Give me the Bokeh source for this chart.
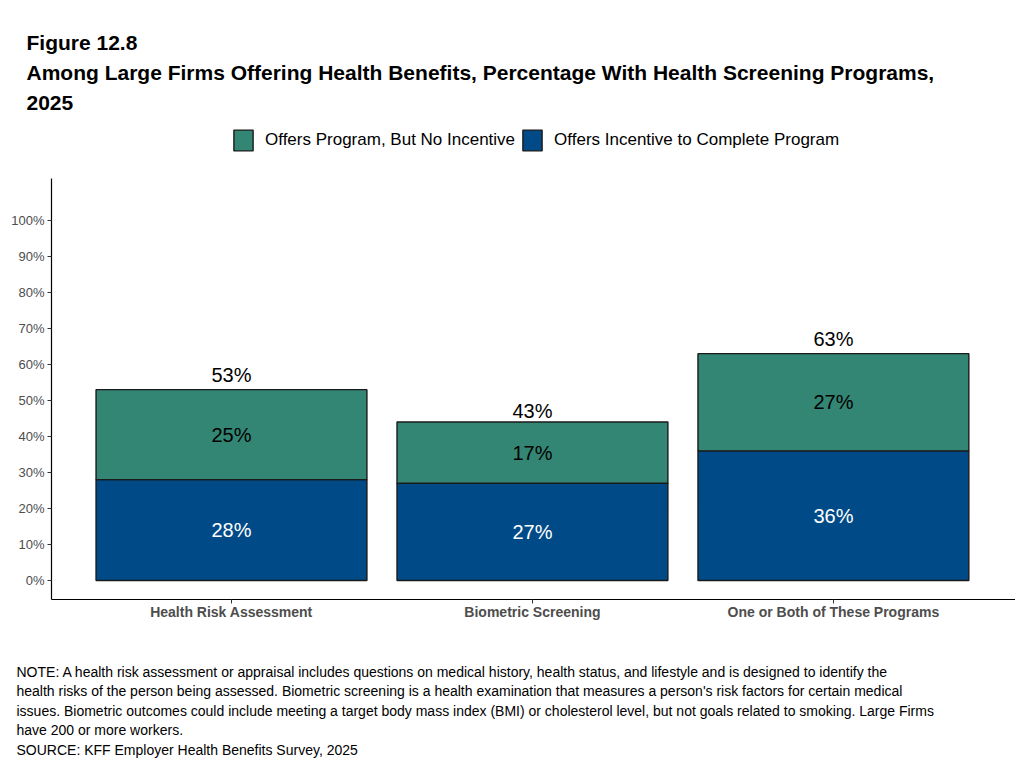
from bokeh.plotting import figure
from bokeh.models import (Range1d, FixedTicker, Legend, LegendItem, Title,
                          ColumnDataSource, LabelSet)
from bokeh.core.properties import value
from bokeh.embed import file_html
from bokeh.resources import INLINE

# ---- data ----
categories = ["Health Risk Assessment", "Biometric Screening", "One or Both of These Programs"]
incentive = [28, 27, 36]          # Offers Incentive to Complete Program
no_incentive = [25, 17, 27]       # Offers Program, But No Incentive
totals = [53, 43, 63]
series_names = ["Offers Program, But No Incentive", "Offers Incentive to Complete Program"]
colors = ["#348674", "#004B87"]
y_ticks = [0, 10, 20, 30, 40, 50, 60, 70, 80, 90, 100]
y_tick_labels = [f"{t}%" for t in y_ticks]

title_lines = ["Figure 12.8",
               "Among Large Firms Offering Health Benefits, Percentage With Health Screening Programs,",
               "2025"]
note_lines = [
    "NOTE: A health risk assessment or appraisal includes questions on medical history, health status, and lifestyle and is designed to identify the",
    "health risks of the person being assessed.  Biometric screening is a health examination that measures a person's risk factors for certain medical",
    "issues. Biometric outcomes could include meeting a target body mass index (BMI) or cholesterol level, but not goals related to smoking.  Large Firms",
    "have 200 or more workers.",
    "SOURCE: KFF Employer Health Benefits Survey, 2025",
]

FONT = "Liberation Sans"

# axis extent (ggplot-style expansion) and the extra room above it for the legend
Y_AXIS_LO, Y_AXIS_HI, Y_VIEW_HI = -5.28, 111.67, 128.3

xs = list(range(1, len(categories) + 1))
src = ColumnDataSource(dict(
    x=xs,
    incentive=incentive,
    no_incentive=no_incentive,
    inc_mid=[a / 2 for a in incentive],
    no_mid=[a + b / 2 for a, b in zip(incentive, no_incentive)],
    totals=totals,
    inc_lab=[f"{v}%" for v in incentive],
    no_lab=[f"{v}%" for v in no_incentive],
    tot_lab=[f"{v}%" for v in totals],
))

p = figure(width=1015, height=762, output_backend="svg", toolbar_location=None,
           x_range=Range1d(0.402, 3.605), y_range=Range1d(Y_AXIS_LO, Y_VIEW_HI),
           min_border_left=51, min_border_right=0, min_border_top=118, min_border_bottom=163)
p.title = None
p.outline_line_color = None
p.xgrid.visible = False
p.ygrid.visible = False
p.background_fill_color = "white"
p.border_fill_color = "white"

renderers = p.vbar_stack(["incentive", "no_incentive"], x="x", width=0.9, source=src,
                         color=[colors[1], colors[0]], line_color="#1a1a1a", line_width=1.4)

# labels
lab_font = value(FONT)
p.add_layout(LabelSet(x="x", y="inc_mid", text="inc_lab", source=src, text_align="center",
                      text_baseline="middle", text_color="white", text_font=lab_font,
                      text_font_size="20px"))
p.add_layout(LabelSet(x="x", y="no_mid", text="no_lab", source=src, text_align="center",
                      text_baseline="middle", text_color="black", text_font=lab_font,
                      text_font_size="20px"))
p.add_layout(LabelSet(x="x", y="totals", text="tot_lab", source=src, text_align="center",
                      text_baseline="middle", text_color="black", text_font=lab_font,
                      text_font_size="20px", y_offset=15))

# axes
yax = p.yaxis[0]
yax.bounds = (Y_AXIS_LO, Y_AXIS_HI)
yax.ticker = FixedTicker(ticks=y_ticks)
yax.major_label_overrides = {t: l for t, l in zip(y_ticks, y_tick_labels)}
yax.major_label_text_font = FONT
yax.major_label_text_font_size = "13px"
yax.major_label_text_color = "#4D4D4D"
yax.major_tick_in = 0
yax.major_tick_out = 4
yax.minor_tick_in = 0
yax.minor_tick_out = 0
yax.major_label_standoff = 3
yax.axis_line_color = "black"
yax.axis_line_width = 1.2
yax.major_tick_line_color = "#333333"

xax = p.xaxis[0]
xax.ticker = FixedTicker(ticks=xs)
xax.major_label_overrides = {x: c for x, c in zip(xs, categories)}
xax.major_label_text_font = FONT
xax.major_label_text_font_size = "14px"
xax.major_label_text_font_style = "bold"
xax.major_label_text_color = "#4D4D4D"
xax.major_tick_in = 0
xax.major_tick_out = 4
xax.minor_tick_in = 0
xax.minor_tick_out = 0
xax.major_label_standoff = 0
xax.axis_line_color = "black"
xax.axis_line_width = 1.2
xax.major_tick_line_color = "#333333"

# legend inside the (extended) frame, above the axis extent
legend = Legend(items=[LegendItem(label=series_names[0], renderers=[renderers[1]]),
                       LegendItem(label=series_names[1], renderers=[renderers[0]])],
                orientation="horizontal", location=(180, 446),
                glyph_width=24, glyph_height=26, label_standoff=10, spacing=5,
                label_text_font=FONT, label_text_font_size="17px", label_text_color="black",
                border_line_alpha=0, background_fill_alpha=0, padding=0, margin=0)
p.add_layout(legend)

# title block (one multi-line title)
p.add_layout(Title(text="\n".join(title_lines), align="left", offset=-25, text_font=FONT,
                   text_font_size="21px", text_font_style="bold", text_line_height=1.32,
                   text_color="black", standoff=8, vertical_align="bottom"), "above")

# gap between the category labels and the notes
p.add_layout(Title(text=" ", text_font_size="1px", standoff=38), "below")

# notes block below
p.add_layout(Title(text="\n".join(note_lines), align="left", offset=-35, text_font=FONT,
                   text_font_size="14px", text_font_style="normal", text_line_height=1.22,
                   text_color="black", vertical_align="top", standoff=0), "below")

open("out.html", "w").write(file_html(p, INLINE))
